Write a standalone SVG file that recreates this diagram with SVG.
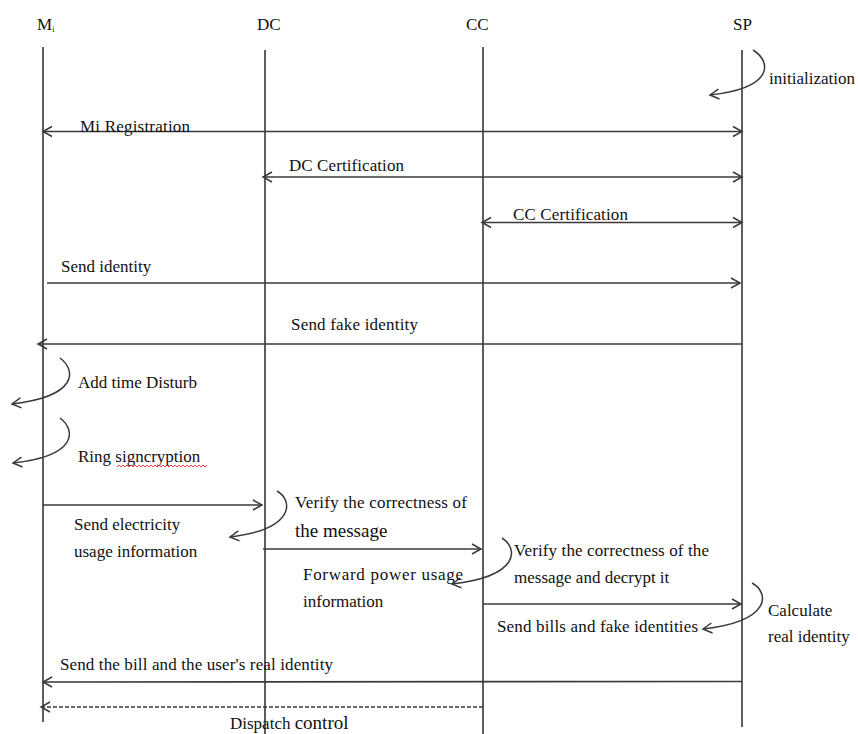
<svg xmlns="http://www.w3.org/2000/svg" width="858" height="734" viewBox="0 0 858 734">
<style>
text{font-family:"Liberation Serif","Times New Roman",serif;font-size:17px;fill:#111}
text.big{font-size:19px}
.life{stroke:#1a1a1a;stroke-width:1.4;fill:none}
.msg{stroke:#3a3a3a;stroke-width:1.6;fill:none}
.loop{stroke:#3a3a3a;stroke-width:1.5;fill:none}
.dash{stroke:#3a3a3a;stroke-width:1.3;fill:none;stroke-dasharray:4 2}
</style>
<defs>
<marker id="ah" markerUnits="userSpaceOnUse" markerWidth="14" markerHeight="14" refX="10" refY="6" orient="auto-start-reverse" viewBox="0 0 14 12">
<path d="M1,1 L10,6 L1,11" fill="none" stroke="#3a3a3a" stroke-width="1.5"/>
</marker>
</defs>
<rect width="858" height="734" fill="#fff"/>
<g id="Mi"><text x="37" y="30">M<tspan font-size="8" dy="2">i</tspan></text><line class="life" x1="43" y1="47" x2="43" y2="722"/></g>
<g id="DC"><text x="257" y="30">DC</text><line class="life" x1="265" y1="50" x2="265" y2="734"/></g>
<g id="CC"><text x="466" y="30">CC</text><line class="life" x1="483" y1="47" x2="483" y2="734"/></g>
<g id="SP"><text x="733" y="30">SP</text><line class="life" x1="742" y1="50" x2="742" y2="727"/></g>
<g id="connectors">
<path class="loop" d="M753,50 C772,62 774,88 710,95" marker-end="url(#ah)"/>
<line class="msg" x1="43" y1="131.5" x2="742" y2="131.5" marker-start="url(#ah)" marker-end="url(#ah)"/>
<line class="msg" x1="263" y1="177" x2="742" y2="177" marker-start="url(#ah)" marker-end="url(#ah)"/>
<line class="msg" x1="482" y1="222.5" x2="742" y2="222.5" marker-start="url(#ah)" marker-end="url(#ah)"/>
<line class="msg" x1="47" y1="283" x2="740" y2="283" marker-end="url(#ah)"/>
<line class="msg" x1="742" y1="344" x2="38" y2="344" marker-end="url(#ah)"/>
<path class="loop" d="M60,358 C76,370 79,396 12,404" marker-end="url(#ah)"/>
<path class="loop" d="M60,418 C76,430 78,456 13,463" marker-end="url(#ah)"/>
<line class="msg" x1="43" y1="505" x2="262" y2="505" marker-end="url(#ah)"/>
<path class="loop" d="M277,491 C293,500 296,529 230,537" marker-end="url(#ah)"/>
<line class="msg" x1="263" y1="549" x2="481" y2="549" marker-end="url(#ah)"/>
<path class="loop" d="M502,538 C518,548 521,576 452,584" marker-end="url(#ah)"/>
<line class="msg" x1="483" y1="604" x2="741" y2="604" marker-end="url(#ah)"/>
<path class="loop" d="M752,583 C769,592 773,621 703,629" marker-end="url(#ah)"/>
<line class="msg" x1="742" y1="681.5" x2="43" y2="682" marker-end="url(#ah)"/>
<line class="dash" x1="483" y1="707" x2="41" y2="707" marker-end="url(#ah)"/>
</g>
<g id="labels">
<text x="769" y="84">initialization</text>
<text x="80" y="132" textLength="110">Mi Registration</text>
<text x="289" y="171" textLength="115">DC Certification</text>
<text x="513" y="220" textLength="115">CC Certification</text>
<text x="61" y="272">Send identity</text>
<text x="291" y="330" textLength="127">Send fake identity</text>
<text x="78" y="388">Add time Disturb</text>
<text x="78" y="462">Ring signcryption</text>
<path d="M117,467 l2,-2 l2,2 l2,-2 l2,2 l2,-2 l2,2 l2,-2 l2,2 l2,-2 l2,2 l2,-2 l2,2 l2,-2 l2,2 l2,-2 l2,2 l2,-2 l2,2 l2,-2 l2,2 l2,-2 l2,2 l2,-2 l2,2 l2,-2 l2,2 l2,-2 l2,2 l2,-2 l2,2 l2,-2 l2,2 l2,-2 l2,2 l2,-2 l2,2 l2,-2 l2,2 l2,-2 l2,2 l2,-2 l2,2 l2,-2 l2,2 l2,-2" fill="none" stroke="#e03030" stroke-width="0.9"/>
<text x="74" y="530">Send electricity</text>
<text x="74" y="557">usage information</text>
<text x="295" y="508" textLength="172">Verify the correctness of</text>
<text class="big" x="295" y="537">the message</text>
<text x="303" y="580" textLength="160">Forward power usage</text>
<text x="303" y="607">information</text>
<text x="514" y="556" textLength="195">Verify the correctness of the</text>
<text x="514" y="583">message and decrypt it</text>
<text x="497" y="632" textLength="201">Send bills and fake identities</text>
<text x="768" y="616">Calculate</text>
<text x="768" y="642">real identity</text>
<text x="60" y="670" textLength="273">Send the bill and the user's real identity</text>
<text x="230" y="729">Dispatch <tspan font-size="19">control</tspan></text>
</g>
</svg>
